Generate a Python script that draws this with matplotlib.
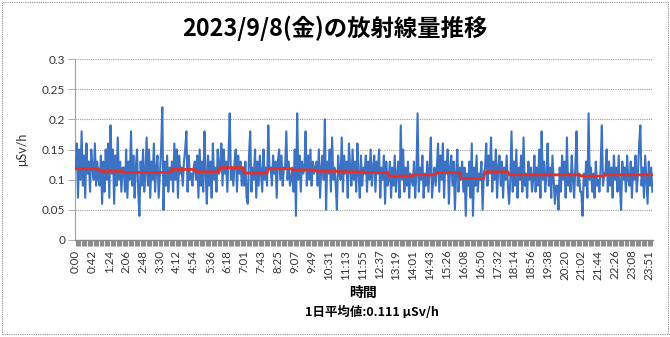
import numpy as np
import matplotlib
matplotlib.use("Agg")
import matplotlib.pyplot as plt
from matplotlib.patches import Rectangle

plt.rcParams['font.family'] = ['Noto Sans CJK JP', 'DejaVu Sans']

# 3分毎の線量 (μSv/h)、1行 = 1時間
dose_values = [
    .12, .16, .07, .15, .10, .18, .09, .14, .07, .16, .11, .13, .08, .15, .12, .10, .16, .09, .13, .10,
    .09, .14, .06, .13, .08, .15, .10, .16, .07, .19, .11, .15, .06, .14, .09, .17, .10, .13, .08, .12,
    .12, .08, .15, .07, .13, .10, .18, .09, .14, .07, .12, .15, .08, .04, .13, .09, .15, .08, .11, .17,
    .09, .15, .07, .13, .10, .16, .08, .12, .14, .07, .11, .15, .22, .05, .13, .09, .14, .08, .12, .10,
    .13, .08, .16, .10, .15, .07, .14, .11, .12, .09, .13, .15, .18, .08, .14, .10, .11, .09, .12, .13,
    .10, .14, .07, .15, .09, .13, .08, .18, .11, .06, .14, .09, .13, .07, .16, .10, .12, .08, .15, .11,
    .12, .16, .09, .15, .11, .13, .08, .14, .21, .10, .12, .09, .13, .15, .08, .14, .11, .13, .09, .12,
    .09, .13, .07, .06, .14, .18, .08, .12, .10, .15, .07, .13, .09, .14, .11, .08, .15, .10, .12, .09,
    .19, .12, .12, .09, .14, .11, .13, .07, .13, .15, .10, .14, .09, .12, .12, .18, .10, .13, .09, .10,
    .12, .08, .15, .04, .21, .10, .14, .08, .13, .11, .12, .18, .09, .14, .10, .15, .09, .13, .11, .12,
    .13, .09, .15, .07, .12, .14, .10, .20, .05, .13, .11, .15, .08, .17, .10, .12, .09, .05, .14, .11,
    .10, .17, .08, .14, .11, .13, .07, .16, .12, .09, .15, .10, .13, .08, .16, .11, .07, .14, .09, .12,
    .11, .14, .08, .13, .10, .15, .09, .12, .14, .08, .13, .11, .15, .07, .12, .10, .14, .06, .13, .09,
    .10, .13, .07, .12, .09, .14, .08, .11, .13, .07, .19, .10, .15, .08, .12, .09, .13, .07, .11, .10,
    .09, .13, .07, .11, .21, .08, .12, .10, .14, .07, .11, .09, .13, .08, .12, .17, .07, .10, .12, .09,
    .12, .16, .08, .14, .10, .16, .07, .13, .11, .15, .06, .12, .14, .09, .13, .05, .11, .15, .08, .12,
    .10, .13, .08, .12, .04, .11, .09, .13, .07, .16, .04, .12, .09, .14, .08, .11, .10, .13, .05, .11,
    .12, .16, .09, .14, .11, .17, .08, .13, .10, .15, .07, .12, .14, .09, .13, .07, .12, .10, .14, .09,
    .06, .10, .18, .08, .13, .09, .15, .07, .12, .10, .14, .08, .17, .09, .11, .07, .13, .10, .12, .08,
    .10, .14, .08, .12, .09, .15, .07, .18, .10, .13, .08, .11, .16, .09, .12, .07, .14, .10, .06, .09,
    .09, .05, .12, .08, .14, .10, .13, .07, .17, .09, .11, .08, .14, .10, .07, .12, .18, .09, .11, .08,
    .08, .04, .11, .09, .13, .07, .21, .10, .12, .08, .11, .07, .13, .09, .10, .08, .12, .19, .09, .11,
    .11, .15, .08, .13, .09, .12, .07, .14, .10, .12, .08, .14, .09, .05, .13, .10, .12, .08, .14, .10,
    .09, .13, .07, .12, .10, .14, .08, .11, .16, .19, .09, .12, .07, .14, .10, .06, .13, .09, .12, .08,
]

# 1時間毎の平均値 (赤線)
hourly_avg = [.118, .114, .112, .112, .117, .113, .120, .111, .118, .116, .114, .113,
              .112, .106, .108, .112, .102, .113, .108, .108, .108, .106, .108, .108]

tick_labels = ['0:00', '0:42', '1:24', '2:06', '2:48', '3:30', '4:12', '4:54', '5:36',
               '6:18', '7:01', '7:43', '8:25', '9:07', '9:49', '10:31', '11:13', '11:55',
               '12:37', '13:19', '14:01', '14:43', '15:26', '16:08', '16:50', '17:32',
               '18:14', '18:56', '19:38', '20:20', '21:02', '21:44', '22:26', '23:08', '23:51']

daily_avg = 0.111

n = len(dose_values)
per_hour = n // len(hourly_avg)
x = np.arange(n)

fig = plt.figure(figsize=(6.7, 3.37), dpi=100)
ax = fig.add_axes([75 / 670, 1 - 240 / 337, 578 / 670, 181 / 337])

ax.plot(x, dose_values, color='#3B72C4', linewidth=1.5, zorder=3)
ax.plot(x, np.repeat(hourly_avg, per_hour), color='#E0302A', linewidth=2.0, zorder=4)

ax.set_xlim(-0.5, n - 0.5)
ax.set_ylim(0, 0.3)
ax.set_yticks(np.arange(0, 0.31, 0.05))
ax.set_yticklabels(['0', '0.05', '0.1', '0.15', '0.2', '0.25', '0.3'])
ax.yaxis.grid(True, color='#A0A0A0', linestyle=(0, (1, 1)), linewidth=0.8)
ax.set_axisbelow(True)

tick_step = (n - 4) // (len(tick_labels) - 1)
ax.set_xticks(np.arange(len(tick_labels)) * tick_step)
ax.set_xticklabels(tick_labels, rotation=90, family='Lato', fontsize=8.3, color='#333333')
ax.set_xticks(x, minor=True)
ax.tick_params(axis='x', which='minor', length=4, width=0.8, color='#8C8C8C')
ax.tick_params(axis='x', which='major', length=4, width=0.8, color='#8C8C8C', pad=3)
ax.tick_params(axis='y', length=5, width=0.6, color='#A0A0A0', pad=2,
               labelsize=8.5, labelcolor='#333333')
for lbl in ax.get_yticklabels():
    lbl.set_family('Lato')

for side in ['top', 'right']:
    ax.spines[side].set_visible(False)
ax.spines['left'].set_color('#A0A0A0')
ax.spines['left'].set_linestyle((0, (1, 1)))
ax.spines['bottom'].set_color('#888888')
ax.spines['bottom'].set_linewidth(1.0)

ax.set_ylabel('μSv/h', fontsize=9, color='#333333', family=['Lato', 'DejaVu Sans'])
ax.yaxis.set_label_coords(-0.081, 0.5)

fig.text(0.5, 1 - 28 / 337, '2023/9/8(金)の放射線量推移', ha='center', va='center',
         fontsize=16.8, fontweight='bold')
fig.text(363 / 670, 1 - 293 / 337, '時間', ha='center', va='center',
         fontsize=10, fontweight='bold')
fig.text(372 / 670, 1 - 312 / 337, f'1日平均値:{daily_avg} μSv/h', ha='center', va='center',
         fontsize=9, fontweight='bold')

# グラフ外枠 (点線)
fig.patches.append(Rectangle((2 / 670, 3 / 337), 666 / 670, 332 / 337, transform=fig.transFigure,
                             fill=False, edgecolor='#909090', linestyle=(0, (1, 1)), linewidth=0.8))

fig.savefig('out.png', dpi=100)
